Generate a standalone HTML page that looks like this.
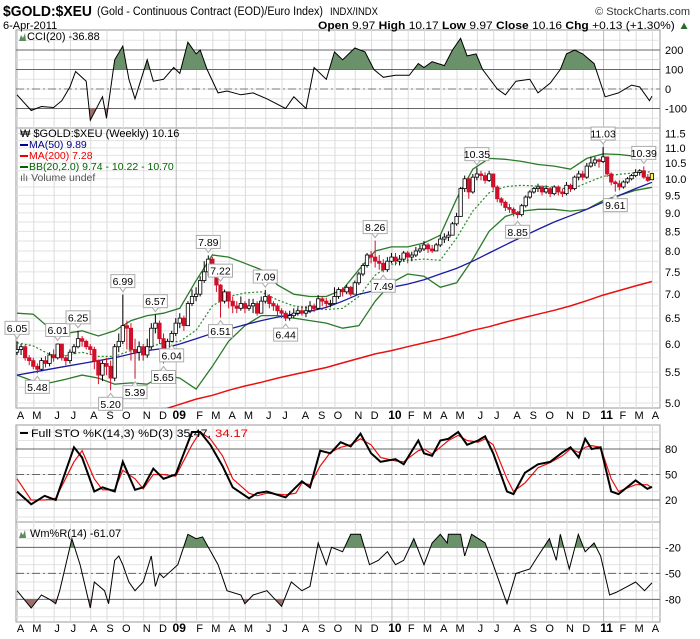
<!DOCTYPE html>
<html><head><meta charset="utf-8"><style>
html,body{margin:0;padding:0;background:#fff;}
svg{display:block;font-family:"Liberation Sans",sans-serif;}
</style></head><body>
<svg id="c" width="700" height="639" viewBox="0 0 700 639" xmlns="http://www.w3.org/2000/svg">
<defs>
<clipPath id="cciUp"><rect x="16" y="30" width="644" height="39.5"/></clipPath>
<clipPath id="cciDn"><rect x="16" y="108.5" width="644" height="20"/></clipPath>
<clipPath id="wrUp"><rect x="16" y="522" width="644" height="25.3"/></clipPath>
<clipPath id="wrDn"><rect x="16" y="599.3" width="644" height="23"/></clipPath>
<clipPath id="mainClip"><rect x="16" y="128" width="644" height="280"/></clipPath>
<clipPath id="stoClip"><rect x="16" y="425" width="644" height="97"/></clipPath>
</defs>
<g id="grid"></g>
<g id="marks"></g>
<g id="texts">
<text x="3" y="16" font-size="15" font-weight="bold" textLength="89" lengthAdjust="spacingAndGlyphs">$GOLD:$XEU</text>
<text x="97" y="15" font-size="11.5" textLength="226" lengthAdjust="spacingAndGlyphs">(Gold - Continuous Contract (EOD)/Euro Index)</text>
<text x="330" y="15" font-size="11" textLength="48" lengthAdjust="spacingAndGlyphs">INDX/INDX</text>
<text x="690" y="15" font-size="11" text-anchor="end" fill="#333">© StockCharts.com</text>
<text x="3" y="29" font-size="11">6-Apr-2011</text>
<text x="690" y="29" font-size="11" text-anchor="end" textLength="372" lengthAdjust="spacingAndGlyphs"><tspan font-weight="bold">Open</tspan> 9.97 <tspan font-weight="bold">High</tspan> 10.17 <tspan font-weight="bold">Low</tspan> 9.97 <tspan font-weight="bold">Close</tspan> 10.16 <tspan font-weight="bold">Chg</tspan> +0.13 (+1.30%) <tspan fill="#2a6a2a">▲</tspan></text>
<g>
<path d="M19 41 L21 35 L23 38 L25 33 L26 41 Z" fill="#5f8a5f"/>
<text x="27" y="40" font-size="11">CCI(20) -36.88</text>
</g>
<g>
<text x="20" y="137" font-size="11">₩ $GOLD:$XEU (Weekly) 10.16</text>
<rect x="20" y="144" width="8" height="2" fill="#00008b"/>
<text x="29" y="148" font-size="10.5" fill="#00008b">MA(50) 9.89</text>
<rect x="20" y="155" width="8" height="2" fill="#e00"/>
<text x="29" y="159" font-size="10.5" fill="#e00">MA(200) 7.28</text>
<rect x="20" y="166" width="8" height="2" fill="#060"/>
<text x="29" y="170" font-size="10.5" fill="#060">BB(20,2.0) 9.74 - 10.22 - 10.70</text>
<text x="20" y="181" font-size="10.5" fill="#555">ılı Volume undef</text>
</g>
<g>
<rect x="20" y="432" width="8" height="2" fill="#000"/>
<text x="31" y="437" font-size="11" textLength="180" lengthAdjust="spacingAndGlyphs">Full STO %K(14,3) %D(3) 35.47,</text>
<text x="215" y="437" font-size="11" fill="#e00" textLength="33" lengthAdjust="spacingAndGlyphs">34.17</text>
</g>
<g>
<path d="M19 538 L21 532 L23 535 L25 530 L26 538 Z" fill="#5f8a5f"/>
<text x="30" y="537" font-size="11">Wm%R(14) -61.07</text>
</g>
</g>
</svg>
<script>
// ---- data ----
const closes=[5.90,5.95,5.75,5.70,5.60,5.55,5.70,5.65,5.80,5.75,6.00,5.75,5.70,5.85,5.95,6.10,6.05,5.95,5.90,5.70,5.45,5.65,5.60,5.40,5.95,6.05,6.35,6.30,5.90,5.85,5.95,5.80,5.95,6.30,6.40,6.10,5.75,6.05,6.20,6.40,6.50,6.35,6.80,6.95,7.00,7.30,7.50,7.80,7.55,7.20,6.85,7.05,6.85,6.75,6.70,6.80,6.70,6.75,6.80,6.60,6.85,6.95,6.80,6.75,6.65,6.60,6.50,6.55,6.60,6.65,6.60,6.65,6.75,6.70,6.90,6.85,6.80,6.80,6.95,7.10,7.05,7.15,7.00,7.25,7.45,7.65,7.90,7.85,7.75,7.70,7.55,7.75,7.85,7.75,7.80,7.95,7.85,7.90,8.00,8.05,8.15,8.05,8.00,8.15,8.30,8.35,8.40,8.70,8.90,9.70,10.00,9.60,10.05,10.15,10.10,9.95,10.15,9.75,9.40,9.30,9.15,9.10,9.00,8.95,9.20,9.45,9.60,9.70,9.75,9.60,9.70,9.55,9.75,9.60,9.55,9.80,9.70,10.05,10.15,10.05,10.40,10.50,10.60,10.55,10.70,10.15,9.90,9.85,9.75,9.90,10.00,10.10,10.20,10.25,10.05,9.95,10.16];
const highs=[6.05,6.00,5.98,5.80,5.75,5.65,5.75,5.78,5.85,5.90,6.01,6.00,5.80,5.90,6.00,6.25,6.15,6.08,6.00,5.95,5.72,5.70,5.75,5.70,6.00,6.20,6.99,6.45,6.40,6.10,6.05,6.00,6.10,6.40,6.57,6.45,6.20,6.10,6.25,6.50,6.60,6.55,6.85,7.10,7.15,7.40,7.75,7.89,7.85,7.55,7.22,7.10,7.00,6.95,6.85,6.95,6.85,6.90,6.90,6.85,6.95,7.09,7.00,6.85,6.80,6.70,6.65,6.65,6.70,6.72,6.75,6.75,6.85,6.80,6.98,6.95,6.92,6.88,7.15,7.15,7.15,7.20,7.18,7.30,7.50,7.70,7.95,8.00,8.26,7.90,7.80,7.85,7.95,7.95,7.90,8.00,8.00,7.98,8.10,8.15,8.25,8.20,8.15,8.20,8.40,8.45,8.50,8.75,9.00,9.75,10.10,10.05,10.15,10.35,10.25,10.20,10.25,10.15,9.80,9.45,9.35,9.25,9.15,9.05,9.25,9.50,9.65,9.75,9.85,9.80,9.80,9.75,9.80,9.80,9.70,9.90,9.85,10.10,10.25,10.25,10.50,10.70,10.70,10.65,11.03,10.70,10.20,9.95,9.95,9.95,10.05,10.15,10.30,10.30,10.39,10.15,10.17];
const lows=[5.80,5.80,5.70,5.62,5.55,5.48,5.52,5.58,5.60,5.68,5.72,5.70,5.62,5.65,5.82,5.92,5.95,5.90,5.80,5.55,5.30,5.35,5.45,5.20,5.35,5.85,6.00,5.90,5.70,5.39,5.70,5.70,5.75,5.90,6.20,6.00,5.65,5.75,6.04,6.15,6.30,6.25,6.35,6.75,6.85,6.95,7.25,7.40,7.40,7.05,6.51,6.80,6.70,6.60,6.60,6.65,6.60,6.65,6.60,6.55,6.60,6.80,6.70,6.65,6.55,6.50,6.44,6.45,6.50,6.55,6.55,6.52,6.60,6.62,6.68,6.75,6.72,6.72,6.78,6.90,6.95,7.00,6.95,7.00,7.20,7.40,7.60,7.70,7.60,7.55,7.49,7.50,7.70,7.65,7.65,7.75,7.70,7.75,7.85,7.95,8.00,7.95,7.95,8.00,8.10,8.20,8.25,8.40,8.65,8.90,9.60,9.40,9.55,9.95,9.95,9.85,9.90,9.65,9.30,9.20,9.05,9.00,8.90,8.85,8.90,9.15,9.40,9.55,9.60,9.50,9.55,9.45,9.50,9.50,9.45,9.50,9.60,9.65,9.95,9.95,10.00,10.35,10.40,10.35,10.50,10.05,9.80,9.61,9.65,9.70,9.85,9.95,10.05,10.10,10.00,9.90,9.97];
const priceLabelIdx=[0,5,10,15,23,26,29,34,36,38,47,50,50,61,66,88,90,113,123,144,147,154];
const priceLabelType=['h','l','h','h','l','h','l','h','l','l','h','h','l','h','l','h','l','h','l','h','l','h'];
const lineIdx=[0,4,8,12,16,20,24,28,32,36,40,44,48,52,56,60,64,68,72,76,80,84,88,92,96,100,104,108,112,116,120,124,128,132,136,140,144,148,152,156];
const ma50=[5.45,5.50,5.55,5.60,5.65,5.70,5.75,5.82,5.88,5.92,6.00,6.10,6.20,6.28,6.37,6.45,6.52,6.58,6.64,6.72,6.85,7.00,7.08,7.15,7.22,7.32,7.45,7.58,7.75,7.95,8.15,8.35,8.55,8.75,8.92,9.10,9.30,9.50,9.70,9.89];
const ma200Idx=[36,40,44,48,52,56,60,64,68,72,76,80,84,88,92,96,100,104,108,112,116,120,124,128,132,136,140,144,148,152,156];
const ma200=[4.90,4.98,5.06,5.12,5.20,5.27,5.33,5.40,5.46,5.52,5.58,5.66,5.74,5.82,5.88,5.95,6.02,6.09,6.17,6.26,6.33,6.42,6.50,6.58,6.66,6.75,6.86,6.98,7.08,7.18,7.28];
const bbUpper=[6.60,6.58,6.30,6.20,6.25,6.15,6.25,6.45,6.55,6.60,6.70,7.30,7.90,7.85,7.70,7.55,7.20,7.00,6.95,6.95,7.10,7.55,8.00,8.10,8.10,8.20,8.40,9.40,10.30,10.65,10.62,10.55,10.45,10.40,10.30,10.65,10.80,10.78,10.72,10.70];
const bbLower=[5.45,5.35,5.32,5.38,5.45,5.40,5.30,5.32,5.30,5.45,5.40,5.22,5.60,6.05,6.35,6.55,6.55,6.50,6.45,6.40,6.30,6.35,6.85,7.25,7.45,7.40,7.15,7.25,7.80,8.50,8.90,9.05,9.10,9.10,9.05,9.10,9.35,9.50,9.65,9.74];
const cciWeeks=[0,3.5,6,9,11,13,14.4,17,18,21,22,24,26,27.5,29,32,33.5,36,38.5,40,42,44,45,46.7,49.4,51.6,55,58,61.4,66,68,71,73,76,78,80,83,85.5,87.7,90,93,96.4,98.6,100,102,105,107,109,110.6,112.8,114.4,118,120,122.6,126,128,131,133.5,135,137,139,141.8,144.5,147.8,151,153,155.4,156];
const cciVals=[-30,-110,-90,-95,-60,10,90,40,-160,-40,-150,150,220,50,-50,150,40,50,110,80,240,180,200,100,-20,-10,-30,-20,-50,-100,-40,-100,110,50,190,150,210,190,100,60,70,70,130,110,140,120,200,260,170,180,100,0,-30,40,50,-20,30,100,180,200,180,130,-40,-20,20,10,-60,-37];
const stoWeeks=[0,3.5,6.8,9.5,14,16,19,21,24,26,29,31,33.5,36,39,43,45,47.5,50.5,53,57,59,61.4,66,68.5,70,72,74.5,77,79.5,82,84.4,87,89.3,93,95,98.6,100,102,104,106,108.4,110.6,113.3,115,117,120.4,122,124.8,128,131,134,136,138,139.6,141.2,143.4,146,147.8,152,154.9,156];
const stoK=[30,15,25,20,82,70,30,35,30,65,32,35,57,45,50,100,100,85,60,35,22,28,30,23,35,42,35,78,75,88,83,98,75,65,68,62,90,75,72,90,92,100,85,90,95,75,30,27,52,62,65,76,82,70,92,80,82,30,27,43,33,35.5];
const stoD=[45,20,20,22,65,78,45,32,32,55,45,33,50,50,48,85,100,92,72,45,28,25,28,26,28,40,38,60,76,82,85,92,85,70,66,65,78,80,74,82,90,96,90,88,92,85,45,30,40,58,64,72,80,76,82,84,82,45,30,38,38,34.2];
const wrWeeks=[0,3.5,6,8,9.5,10.5,12,13.5,15.5,18,19,21.5,22.5,24,25,26,27.5,29,31,33,34,35,36,39.5,42,44,45.6,47,49.4,51.6,55,56,58,61.4,65,67.4,70,72,74,76,77.3,80,82,84.4,86.6,88.8,91,93,95,97.5,100,102,104,105.7,106,109,110,111.7,115,117,120.4,122.6,126,128,130.8,132.5,133.5,135.7,137.9,139.6,141.8,143.4,145.6,147.2,150,152,154.2,156];
const wrVals=[-70,-90,-75,-80,-85,-70,-40,-10,-40,-90,-60,-70,-85,-35,-30,-40,-60,-70,-60,-30,-65,-50,-55,-40,-5,-10,-8,-20,-40,-70,-75,-85,-75,-70,-88,-60,-70,-65,-15,-40,-20,-25,-5,-5,-40,-35,-25,-40,-35,-10,-40,-15,-5,-15,-5,-5,-30,-5,-15,-40,-85,-50,-45,-30,-10,-35,-5,-45,-5,-25,-15,-30,-75,-72,-65,-60,-70,-61];
const monthStarts=[0,4,9,13,18,22,26,31,35,39,44,48,52,56,61,65,70,74,78,83,87,92,96,100,104,108,113,117,122,126,130,135,139,144,148,152,156];
const monthLabels=['A','M','J','J','A','S','O','N','D','09','F','M','A','M','J','J','A','S','O','N','D','10','F','M','A','M','J','J','A','S','O','N','D','11','F','M','A'];
const priceTicks=[5.0,5.5,6.0,6.5,7.0,7.5,8.0,8.5,9.0,9.5,10.0,10.5,11.0,11.5];
const cciTicks=[200,100,0,-100];
const stoTicks=[80,50,20];
const wrTicks=[-20,-50,-80];

// ---- scales ----
const NS='http://www.w3.org/2000/svg';
const L=16,R=660;
function X(i){return 17+i*4.07;}
function Py(p){return 403-323.5*Math.log(p/5);}
function Cy(v){return 89-v*0.195;}
function Sy(v){return 517-v*0.85;}
function Wy(v){return 530-v*0.867;}
const grid=document.getElementById('grid'),marks=document.getElementById('marks');
function mk(tag,parent,attrs){const e=document.createElementNS(NS,tag);for(const k in attrs)e.setAttribute(k,attrs[k]);parent.appendChild(e);return e;}
function pts(ws,vs,f){return ws.map((w,k)=>X(w).toFixed(1)+','+f(vs[k]).toFixed(1)).join(' ');}

const panels=[['cci-panel',30,128],['price-panel',128,408],['sto-panel',425,522],['wr-panel',522,622]];
panels.forEach(p=>{
  const r=mk('rect',grid,{x:L,y:p[1],width:R-L,height:p[2]-p[1],fill:'#fff',stroke:'#999','stroke-width':1});
  
  
});
for(let v=-150;v<=250;v+=50){const y=Cy(v);if(y>31&&y<127)mk('line',grid,{x1:L,x2:R,y1:y,y2:y,stroke:'#e2e2e2'});}
for(let p=5.0;p<=11.6;p+=0.25){mk('line',grid,{x1:L,x2:R,y1:Py(p),y2:Py(p),stroke:'#e2e2e2'});}
for(let v=0;v<=100;v+=10){mk('line',grid,{x1:L,x2:R,y1:Sy(v),y2:Sy(v),stroke:'#e2e2e2'});}
for(let v=-100;v<=0;v+=10){mk('line',grid,{x1:L,x2:R,y1:Wy(v),y2:Wy(v),stroke:'#e2e2e2'});}
monthStarts.forEach((m,k)=>{
  const x=X(m)+0.5,yr=/\d/.test(monthLabels[k]);
  panels.forEach(p=>mk('line',grid,{x1:x,x2:x,y1:p[1],y2:p[2],stroke:yr?'#bbb':'#dcdcdc'}));
  [419,632].forEach((ty,j)=>{
    const t=mk('text',grid,{x:x+3,y:ty,'font-size':yr?12:11,'font-weight':yr?'bold':'normal','text-anchor':'middle'});
    t.textContent=monthLabels[k];
    
    
  });
});
function tick(y,txt,name){const t=mk('text',grid,{x:665,y:y+4,'font-size':11});t.textContent=txt;
  
  }
priceTicks.forEach(p=>tick(Py(p),p.toFixed(1),'price-tick'));
cciTicks.forEach(v=>{tick(Cy(v),String(v),'cci-tick');mk('line',grid,{x1:L,x2:R,y1:Cy(v),y2:Cy(v),stroke:v===0?'#777':'#666','stroke-dasharray':v===0?'8,3,2,3':'none'});});
stoTicks.forEach(v=>{tick(Sy(v),String(v),'sto-tick');mk('line',grid,{x1:L,x2:R,y1:Sy(v),y2:Sy(v),stroke:'#666','stroke-dasharray':v===50?'8,3,2,3':'none'});});
wrTicks.forEach(v=>{tick(Wy(v),String(v),'wr-tick');mk('line',grid,{x1:L,x2:R,y1:Wy(v),y2:Wy(v),stroke:'#666','stroke-dasharray':v===-50?'8,3,2,3':'none'});});

function shade(ws,vs,f,th,clip,color,name){
  const xs=X(ws[0]),xe=X(ws[ws.length-1]);
  const p=mk('polygon',marks,{points:xs+','+f(th)+' '+pts(ws,vs,f)+' '+xe+','+f(th),fill:color,'clip-path':'url(#'+clip+')'});
  
  
}
shade(cciWeeks,cciVals,Cy,100,'cciUp','#6a9169','cci-overbought-fill');
shade(cciWeeks,cciVals,Cy,-100,'cciDn','#a06e6a','cci-oversold-fill');
const cciLine=mk('polyline',marks,{points:pts(cciWeeks,cciVals,Cy),fill:'none',stroke:'#000','stroke-width':1});



const pg=mk('g',marks,{'clip-path':'url(#mainClip)'});
const bbMid=bbUpper.map((u,k)=>(u+bbLower[k])/2);
function pline(ws,vs,color,w,dash,name){const l=mk('polyline',pg,{points:pts(ws,vs,Py),fill:'none',stroke:color,'stroke-width':w,'stroke-dasharray':dash||'none'});
  
  }
pline(lineIdx,bbUpper,'#2a7a2a',1.3,null,'bb-upper-line');
pline(lineIdx,bbLower,'#2a7a2a',1.3,null,'bb-lower-line');
pline(lineIdx,bbMid,'#2a8a2a',1.2,'2,2','bb-middle-line');
pline(lineIdx,ma50,'#1a1aa0',1.3,null,'ma50-line');
pline(ma200Idx,ma200,'#e81010',1.5,null,'ma200-line');
closes.forEach((c,i)=>{
  const o=i===0?5.85:(i===156?9.97:closes[i-1]);
  const up=c>=o, x=X(i);
  const col=i===156?'#000':(up?'#000':'#d0102a');
  const hi=Math.max(highs[i],o,c),lo=Math.min(lows[i],o,c);
  const g=mk('g',pg,{});
  
  
  mk('line',g,{x1:x,x2:x,y1:Py(hi),y2:Py(lo),stroke:col});
  const yt=Py(Math.max(o,c)),yb=Py(Math.min(o,c));
  mk('rect',g,{x:x-1.7,y:yt,width:3.4,height:Math.max(1,yb-yt),fill:i===156?'#ffff40':(up?'#fff':'#d0102a'),stroke:col,'stroke-width':0.8});
});
priceLabelIdx.forEach((i,k)=>{
  const h=priceLabelType[k]==='h',v=h?highs[i]:lows[i],x=X(i);
  const y=h?Py(v)-20:Py(v)+7;
  const g=mk('g',marks,{});
  
  
  mk('rect',g,{x:x-12,y:y,width:24,height:13,fill:'#fff',stroke:'#aaa'});
  mk('path',g,{d:h?`M${x-3} ${y+13} L${x} ${y+17} L${x+3} ${y+13}`:`M${x-3} ${y} L${x} ${y-4} L${x+3} ${y}`,fill:'#fff',stroke:'#aaa'});
  const t=mk('text',g,{x:x,y:y+10.5,'font-size':10.5,'text-anchor':'middle'});
  t.textContent=v.toFixed(2);
});

const sg=mk('g',marks,{'clip-path':'url(#stoClip)'});
const dl=mk('polyline',sg,{points:pts(stoWeeks,stoD,Sy),fill:'none',stroke:'#e81010','stroke-width':1.2});


const kl=mk('polyline',sg,{points:pts(stoWeeks,stoK,Sy),fill:'none',stroke:'#000','stroke-width':2});



shade(wrWeeks,wrVals,Wy,-20,'wrUp','#6a9169','wr-overbought-fill');
shade(wrWeeks,wrVals,Wy,-80,'wrDn','#a06e6a','wr-oversold-fill');
const wl=mk('polyline',marks,{points:pts(wrWeeks,wrVals,Wy),fill:'none',stroke:'#000','stroke-width':1});


</script>
</body></html>
